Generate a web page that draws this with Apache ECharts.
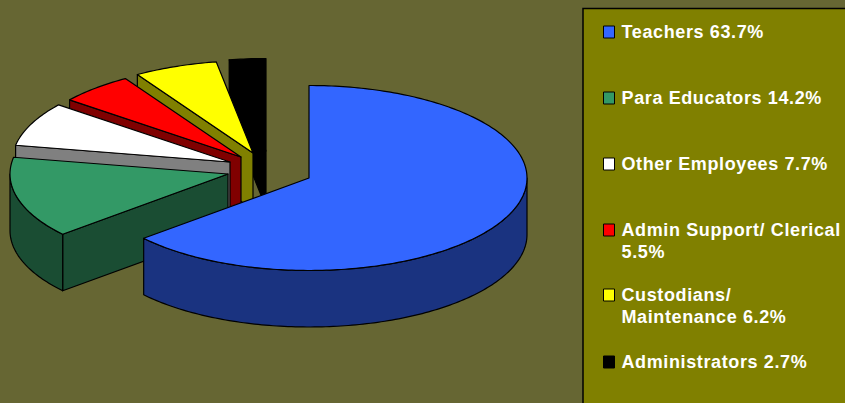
<!DOCTYPE html>
<html><head><meta charset="utf-8">
<style>html,body{margin:0;padding:0;background:#666633}#c{width:845px;height:403px}#c text{letter-spacing:.62px}</style>
<script src="https://cdn.jsdelivr.net/npm/echarts@6/dist/echarts.min.js"></script>
</head><body><div id="c"></div>
<script>
// Data
const categories = ['Teachers','Para Educators','Other Employees','Admin Support/ Clerical','Custodians/ Maintenance','Administrators'];
const values = [63.7,14.2,7.7,5.5,6.2,2.7];
// Styles
const topColors = ['#3366FF','#339966','#FFFFFF','#FF0000','#FFFF00','#000000'];
const sideColors = ['#1A3380','#1A4D33','#808080','#800000','#808000','#000000'];
// Layout
const apexes = [[309,178],[228,174],[230,162],[241,157],[253,153],[266,151]];
const rx = 218, ry = 92.5, depth = 56.5;
const legendTops = [32,98,164,230,295,362];
const labels = categories.map((c,i)=>c+' '+values[i].toFixed(1)+'%');
const wrapped = {3:'Admin Support/ Clerical\n5.5%',4:'Custodians/\nMaintenance 6.2%'};

const total = values.reduce((a,b)=>a+b,0);
let run = 0;
const spans = values.map(v=>{const s=run/total*360; run+=v; return [s,run/total*360];});
const pt = (ap,deg,d)=>{const r=deg*Math.PI/180; return [ap[0]+Math.sin(r)*rx, ap[1]-Math.cos(r)*ry+(d||0)];};
const arc = (ap,a,b,d)=>{const o=[];const n=Math.max(2,Math.ceil(Math.abs(b-a)));for(let i=0;i<=n;i++)o.push(pt(ap,a+(b-a)*i/n,d));return o;};

function sliceItem(i){
  const [a,b]=spans[i], ap=apexes[i], kids=[];
  const poly=(pts,c)=>kids.push({type:'polygon',shape:{points:pts},style:{fill:c,stroke:'#000',lineWidth:1.2,lineJoin:'round'}});
  // side wall on the start radius (the first slice's is hidden behind its own top)
  if(a>0){
    const s=pt(ap,a);
    poly([ap,s,[s[0],s[1]+depth],[ap[0],ap[1]+depth]],sideColors[i]);
  }
  // outer rim, front half only
  const fa=Math.max(a,90), fb=Math.min(b,270);
  if(fb>fa) poly(arc(ap,fa,fb,0).concat(arc(ap,fb,fa,depth)),sideColors[i]);
  poly([ap].concat(arc(ap,a,b,0)),topColors[i]);
  return {type:'group',children:kids};
}

const series = categories.map((c,i)=>({
  type:'custom', name:labels[i], coordinateSystem:'none', silent:true, animation:false,
  z:i===0?8:8-i,
  itemStyle:{color:topColors[i]},
  data:[values[i]],
  renderItem:()=>sliceItem(i)
}));

const legend = labels.map((n,i)=>({
  data:[n], orient:'vertical', left:603, top:legendTops[i]-(wrapped[i]?33:11), padding:0,
  itemWidth:11, itemHeight:12, itemGap:0, icon:'rect', selectedMode:false,
  itemStyle:{borderColor:'#000',borderWidth:1},
  textStyle:{color:'#fff',fontFamily:'Liberation Sans',fontWeight:'bold',fontSize:18,lineHeight:22,padding:[0,0,0,2]},
  formatter:()=> wrapped[i]? '\u00A0\n'+wrapped[i] : n
}));

const chart = echarts.init(document.getElementById('c'),null,{renderer:'svg'});
chart.setOption({
  backgroundColor:'#666633', animation:false, legend, series,
  graphic:[{type:'rect',z:0,shape:{x:583,y:8.5,width:280,height:420},style:{fill:'#808000',stroke:'#000',lineWidth:1.5}}]
});
</script></body></html>
